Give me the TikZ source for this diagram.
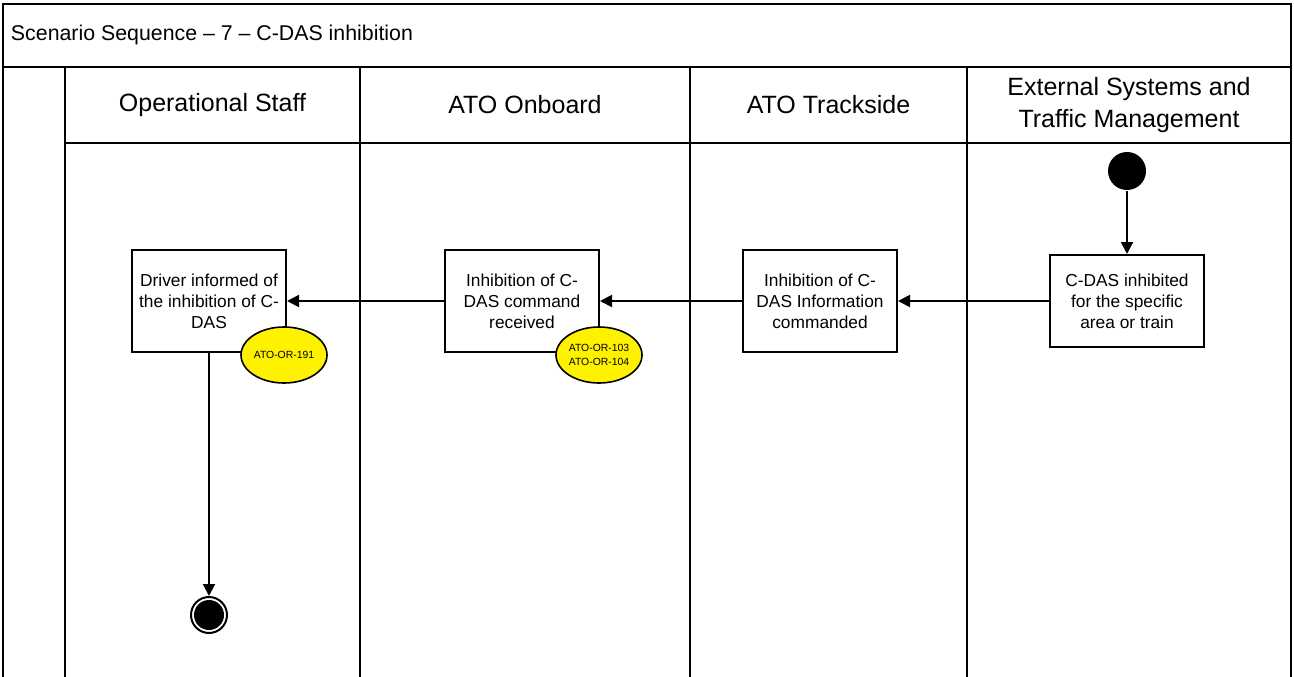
\documentclass[tikz,border=0pt]{standalone}
\usepackage{fontspec}
\setmainfont{Liberation Sans}
\usetikzlibrary{arrows.meta,shapes.geometric}
\begin{document}
\begin{tikzpicture}[x=0.75pt,y=-0.75pt,>={Triangle[length=9pt,width=9pt]},line width=1.5pt,
  actbox/.style={draw,fill=white,minimum width=115.5pt,minimum height=76pt,inner sep=2pt,
    align=center,font=\fontsize{13}{15.75}\selectfont},
  reqtag/.style={draw,ellipse,fill=yellow,line width=1.2pt,minimum width=64.5pt,minimum height=42pt,inner sep=0pt,
    align=center,font=\fontsize{7.8}{10.5}\selectfont},
  lanehead/.style={align=center,font=\fontsize{18.75}{24}\selectfont}]
\useasboundingbox (0,0) rectangle (1294,677);

% frame and lanes
\draw (3,677) -- (3,4) -- (1291,4) -- (1291,677);
\draw (3,67) -- (1291,67);
\draw (65,143) -- (1291,143);
\foreach \x in {65,360,690,967} \draw (\x,67) -- (\x,677);

\node[anchor=west,inner sep=0pt,font=\fontsize{16}{19}\selectfont] (title) at (10,35) {Scenario Sequence – 7 – C-DAS inhibition};

\node[lanehead] (staff) at (212.5,105)  {Operational Staff};
\node[lanehead] (onb)   at (525,105)    {ATO Onboard};
\node[lanehead] (trk)   at (828.5,105)  {ATO Trackside};
\node[lanehead] (ext)   at (1129,105)   {External Systems and\\Traffic Management};

\node[circle,fill=black,minimum size=28.5pt,inner sep=0pt] (start) at (1127,171) {};
\node[circle,draw,fill=white,minimum size=27pt,inner sep=0pt] (finish) at (209,615) {};
\fill (finish) circle (11.25pt);

\node[actbox] (driver)   at (209,301)  {Driver informed of\\the inhibition of C-\\DAS};
\node[actbox] (received) at (522,301)  {Inhibition of C-\\DAS command\\received};
\node[actbox] (commanded) at (820,301) {Inhibition of C-\\DAS Information\\commanded};
\node[actbox,minimum height=69pt] (inhibited) at (1127,301) {C-DAS inhibited\\for the specific\\area or train};

\node[reqtag] (or191) at (284,355) {ATO-OR-191};
\node[reqtag] (or103) at (599,355) {ATO-OR-103\\ATO-OR-104};

\path[->] (start) edge (inhibited);
\path[->] (inhibited) edge (commanded);
\path[->] (commanded) edge (received);
\path[->] (received) edge (driver);
\path[->] (driver) edge (finish);
\end{tikzpicture}
\end{document}
